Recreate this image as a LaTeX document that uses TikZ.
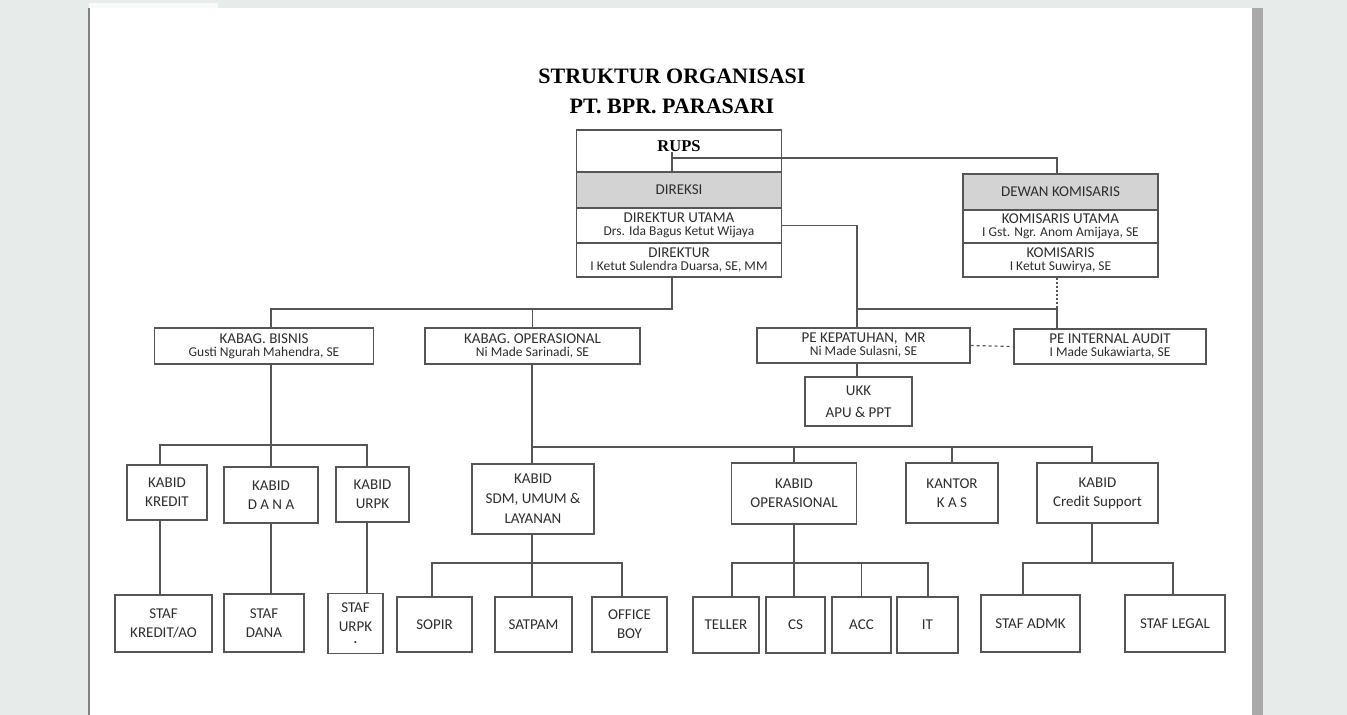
\documentclass[tikz,border=0pt]{standalone}
\usepackage{fontspec}
\setmainfont{Carlito}
\newfontfamily\serifhead{Liberation Serif}
\usetikzlibrary{calc}

\definecolor{deskbg}{HTML}{E7ECEA}
\definecolor{pageedge}{HTML}{A9A9A9}
\definecolor{boxline}{HTML}{555555}
\definecolor{boxtext}{HTML}{2E2E2E}
\definecolor{headfill}{HTML}{D3D3D3}

% title line over a smaller name line
\newcommand{\who}[2]{#1\\{\fontsize{13.5}{13}\selectfont #2}}

\begin{document}
\begin{tikzpicture}[x=1pt, y=-1pt,
  unit/.style={draw=boxline, line width=1.2pt, text=boxtext, inner sep=0pt, align=center, font=\fontsize{15}{19}\selectfont},
  post/.style={unit, font=\fontsize{15}{13}\selectfont},
  staff/.style={unit, minimum height=55},
  link/.style={draw=boxline, line width=1.2pt}]

\useasboundingbox (0,0) rectangle (1347,715);

% Page
\fill[deskbg] (0,0) rectangle (1347,715);
\fill[white] (89,8) rectangle (1252,715);
\fill[white!95!gray] (89,3) rectangle (218,8);
\fill[pageedge] (1252,8) rectangle (1263,715);
\draw[gray, line width=1.5pt] (89,8) -- (89,715);

% Title
\node[font=\serifhead\bfseries\fontsize{22}{30}\selectfont, anchor=base] (title1) at (672,83) {STRUKTUR ORGANISASI};
\node[font=\serifhead\bfseries\fontsize{22}{30}\selectfont, anchor=base] (title2) at (672,113) {PT. BPR. PARASARI};

% Board
\node[unit, minimum width=205, minimum height=42, text=black, font=\serifhead\bfseries\fontsize{16.5}{18}\selectfont, text height=12pt, text depth=12pt] (rups) at (679,151) {RUPS};
\node[post, fill=headfill, minimum width=205, minimum height=36] (direksi) at (679,190) {DIREKSI};
\node[post, minimum width=205, minimum height=35] (dirut) at (679,225.5) {\who{DIREKTUR UTAMA}{Drs. Ida Bagus Ketut Wijaya}};
\node[post, minimum width=205, minimum height=34] (direktur) at (679,260) {\who{DIREKTUR}{I Ketut Sulendra Duarsa, SE, MM}};

\node[post, fill=headfill, minimum width=195, minimum height=36] (dewan) at (1060.5,192) {DEWAN KOMISARIS};
\node[post, minimum width=195, minimum height=33] (komut) at (1060.5,226.5) {\who{KOMISARIS UTAMA}{I Gst. Ngr. Anom Amijaya, SE}};
\node[post, minimum width=195, minimum height=34] (komisaris) at (1060.5,260) {\who{KOMISARIS}{I Ketut Suwirya, SE}};

% Kabag row
\node[post, minimum width=219, minimum height=36] (bisnis) at (264,346) {\who{KABAG. BISNIS}{Gusti Ngurah Mahendra, SE}};
\node[post, minimum width=215, minimum height=36] (opsnl) at (532.5,346) {\who{KABAG. OPERASIONAL}{Ni Made Sarinadi, SE}};
\node[post, minimum width=213, minimum height=35] (pekep) at (863.5,345.5) {\who{PE KEPATUHAN,~~MR}{Ni Made Sulasni, SE}};
\node[post, minimum width=192, minimum height=35] (audit) at (1110,346.5) {\who{PE INTERNAL AUDIT}{I Made Sukawiarta, SE}};
\node[unit, font=\fontsize{15}{22}\selectfont, minimum width=107, minimum height=49] (ukk) at (858.5,401.5) {UKK\\APU \& PPT};

% Kabid row
\node[unit, minimum width=80, minimum height=55] (kredit) at (167,492.5) {KABID\\KREDIT};
\node[unit, minimum width=94, minimum height=56] (dana) at (271,495) {KABID\\D A N A};
\node[unit, minimum width=73, minimum height=55] (urpk) at (372.5,494.5) {KABID\\URPK};
\node[unit, font=\fontsize{15}{20}\selectfont, minimum width=122, minimum height=70] (sdm) at (533,499) {KABID\\SDM, UMUM \&\\LAYANAN};
\node[unit, minimum width=125, minimum height=61] (kbops) at (794,493.5) {KABID\\OPERASIONAL};
\node[unit, minimum width=92, minimum height=60] (kas) at (952,493) {KANTOR\\K A S};
\node[unit, minimum width=121, minimum height=60] (credit) at (1097.5,493) {KABID\\Credit Support};

% Staff row
\node[staff, minimum width=97, minimum height=57] (stafkredit) at (163.5,623.5) {STAF\\KREDIT/AO};
\node[staff, minimum width=80, minimum height=58] (stafdana) at (264,623) {STAF\\DANA};
\node[staff, minimum width=55, minimum height=60] (stafurpk) at (355.5,623.5) {STAF\\URPK\\[-7pt]{\bfseries\fontsize{14}{10}\selectfont .}};
\node[staff, minimum width=75] (sopir) at (434.5,624.5) {SOPIR};
\node[staff, minimum width=77] (satpam) at (533.5,624.5) {SATPAM};
\node[staff, minimum width=75] (officeboy) at (629.5,624.5) {OFFICE\\BOY};
\node[staff, minimum width=66, minimum height=56] (teller) at (726,625) {TELLER};
\node[staff, minimum width=59, minimum height=56] (cs) at (795.5,625) {CS};
\node[staff, minimum width=59, minimum height=56] (acc) at (861.5,625) {ACC};
\node[staff, minimum width=61, minimum height=56] (it) at (927.5,625) {IT};
\node[staff, minimum width=99, minimum height=57] (admk) at (1030.5,623.5) {STAF ADMK};
\node[staff, minimum width=100, minimum height=57] (legal) at (1175,623.5) {STAF LEGAL};

% Board lines
\coordinate (rupsfoot) at (672,152);
\coordinate (rupsbus) at (672,158);
\coordinate (dewantop) at (1057,174);
\draw[link] (rupsfoot) -- (rupsfoot |- direksi.north);
\draw[link] (rupsbus) -| (dewantop);

% Direktur Utama to PE, Dewan to audit
\coordinate (pebus) at (857,309);
\coordinate (auditbus) at (1057,309);
\draw[link] (dirut.east) -| (pebus |- pekep.north);
\draw[link] (pebus) -- (auditbus) -- (auditbus |- audit.north);
\draw[link, dash pattern=on 2pt off 2pt] (auditbus |- komisaris.south) -- (auditbus);
\draw[link, dash pattern=on 3pt off 3pt] (pekep.east) -- (audit.west);
\draw[link] (pebus |- pekep.south) -- (pebus |- ukk.north);

% Direktur to Kabag
\coordinate (kabagbus) at (672,309);
\coordinate (bisnisx) at (271,309);
\draw[link] (kabagbus |- direktur.south) -- (kabagbus) -- (bisnisx) -- (bisnisx |- bisnis.north);
\draw[link] (opsnl.north |- kabagbus) -- (opsnl.north);

% Bisnis group
\coordinate (kreditdrop) at (160,445);
\coordinate (urpkdrop) at (367,445);
\draw[link] (bisnisx |- bisnis.south) -- (bisnisx |- dana.north);
\draw[link] (kreditdrop |- kredit.north) -- (kreditdrop) -- (urpkdrop) -- (urpkdrop |- urpk.north);
\draw[link] (kreditdrop |- kredit.south) -- (kreditdrop |- stafkredit.north);
\draw[link] (dana.south) -- (dana.south |- stafdana.north);
\draw[link] (urpkdrop |- urpk.south) -- (urpkdrop |- stafurpk.north);

% Operasional group
\coordinate (opsbus) at (532,447);
\coordinate (creditdrop) at (1092,447);
\draw[link] (opsbus |- opsnl.south) -- (opsbus |- sdm.north);
\draw[link] (opsbus) -- (creditdrop) -- (creditdrop |- credit.north);
\draw[link] (kbops.north |- opsbus) -- (kbops.north);
\draw[link] (kas.north |- opsbus) -- (kas.north);

% SDM staff
\coordinate (sopirdrop) at (432,563);
\coordinate (boydrop) at (622,563);
\draw[link] (opsbus |- sdm.south) -- (opsbus |- satpam.north);
\draw[link] (sopirdrop |- sopir.north) -- (sopirdrop) -- (boydrop) -- (boydrop |- officeboy.north);

% Operasional staff
\coordinate (tellerdrop) at (732,563);
\coordinate (itdrop) at (928,563);
\draw[link] (kbops.south) -- (kbops.south |- cs.north);
\draw[link] (tellerdrop |- teller.north) -- (tellerdrop) -- (itdrop) -- (itdrop |- it.north);
\draw[link] (acc.north |- tellerdrop) -- (acc.north);

% Credit support staff
\coordinate (admkdrop) at (1023,563);
\coordinate (legaldrop) at (1173,563);
\draw[link] (creditdrop |- credit.south) -- (creditdrop |- admkdrop);
\draw[link] (admkdrop |- admk.north) -- (admkdrop) -- (legaldrop) -- (legaldrop |- legal.north);

\end{tikzpicture}
\end{document}
